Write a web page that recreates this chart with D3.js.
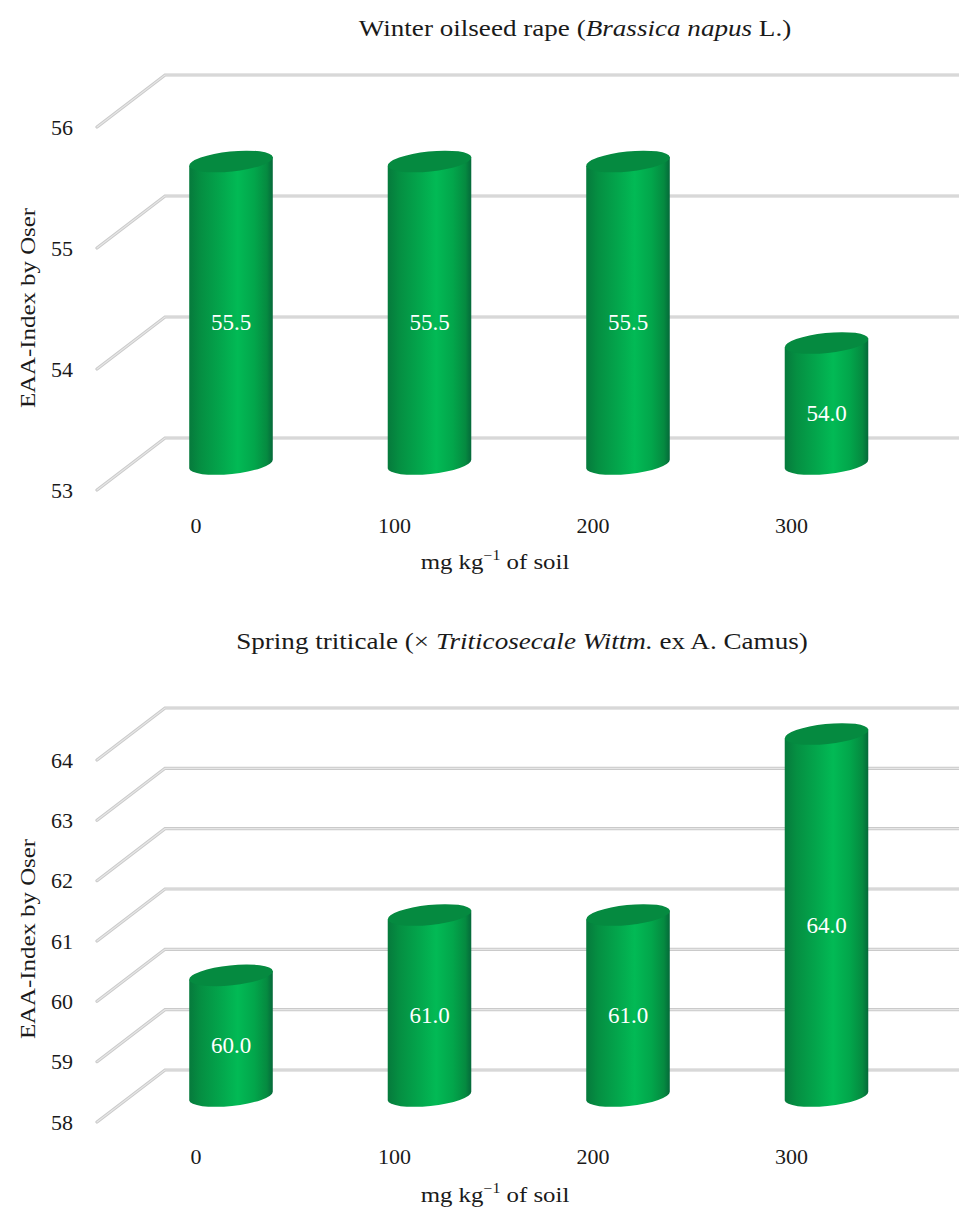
<!DOCTYPE html>
<html><head><meta charset="utf-8">
<style>
html,body{margin:0;padding:0;background:#fff}
text{font-family:"Liberation Serif",serif;fill:#1a1a1a;font-size:22px}
</style>
<script src="https://d3js.org/d3.v7.min.js"></script>
</head><body><svg id="c" width="959" height="1207"></svg>
<script>
const categories = ["0", "100", "200", "300"];
const rapeValues = [55.5, 55.5, 55.5, 54.0];
const triticaleValues = [60.0, 61.0, 61.0, 64.0];
const rapeTicks = [53, 54, 55, 56];
const triticaleTicks = [58, 59, 60, 61, 62, 63, 64];

const svg = d3.select("#c");
const defs = svg.append("defs");

// Shading across a cylinder's body
const grad = defs.append("linearGradient").attr("id", "cyl");
[[0, "#067a3c"], [0.14, "#058f42"], [0.38, "#03a64c"], [0.58, "#02ba55"], [0.78, "#02a64b"], [0.93, "#058a40"], [1, "#05693a"]]
  .forEach(([o, c]) => grad.append("stop").attr("offset", o).attr("stop-color", c));

const x = d3.scalePoint().domain(categories).range([231, 826.5]);
const rx = 42, ry = 10, tilt = -6, depth = 52, frontX = 97, backX = 165;
const dx = rx * Math.cos(tilt * Math.PI / 180), dy = rx * Math.sin(tilt * Math.PI / 180);
const wide = 1.13; // serif labels are set slightly extended

function panel(o) {
  const g = svg.append("g");
  // y gives the back-wall height of a value; marks stand half way into the floor
  const y = d3.scaleLinear().domain(d3.extent(o.ticks)).range(o.backRange);
  const yMid = v => y(v) + depth / 2;

  o.ticks.forEach(t => {
    const pts = [[frontX, y(t) + depth], [backX, y(t)], [959, y(t)]];
    const line = d3.line();
    g.append("path").attr("d", line(pts)).attr("fill", "none")
      .attr("stroke", "#cacaca").attr("stroke-width", 3.2).attr("stroke-linecap", "round");
    g.append("path").attr("d", line(pts)).attr("fill", "none")
      .attr("stroke", "#e6e6e6").attr("stroke-width", 1.2).attr("stroke-linecap", "round");
    g.append("text").attr("x", 62).attr("y", y(t) + depth)
      .attr("text-anchor", "middle").attr("dominant-baseline", "central").text(t);
  });

  o.values.forEach((v, i) => {
    const c = categories[i], cx = x(c), base = yMid(o.ticks[0]), top = yMid(v);
    g.append("path")
      .attr("d", `M${cx - dx},${top - dy}L${cx - dx},${base - dy}A${rx},${ry} ${tilt} 0 0 ${cx + dx},${base + dy}L${cx + dx},${top + dy}Z`)
      .attr("fill", "url(#cyl)");
    g.append("ellipse").attr("cx", cx).attr("cy", top).attr("rx", rx).attr("ry", ry)
      .attr("transform", `rotate(${tilt} ${cx} ${top})`).attr("fill", "#058a40");
    g.append("text").attr("x", cx).attr("y", (top + base) / 2 + 10)
      .attr("text-anchor", "middle").attr("dominant-baseline", "central")
      .style("fill", "#fff").style("font-size", "23px").text(v.toFixed(1));
    g.append("text").attr("x", cx - 35).attr("y", o.catY)
      .attr("text-anchor", "middle").attr("dominant-baseline", "central").text(c);
  });

  const title = g.append("text").attr("transform", `translate(${o.titleX},${o.titleY}) scale(${wide},1)`)
    .attr("text-anchor", "middle").attr("dominant-baseline", "central").style("font-size", "24px");
  o.title.forEach(([s, it]) => title.append("tspan").style("font-style", it ? "italic" : "normal").text(s));

  g.append("text").attr("transform", `translate(28,${o.yTitleY}) rotate(-90) scale(${wide},1)`)
    .attr("text-anchor", "middle").attr("dominant-baseline", "central").text("EAA-Index by Oser");

  const xt = g.append("text").attr("transform", `translate(495,${o.xTitleY}) scale(${wide},1)`)
    .attr("text-anchor", "middle").attr("dominant-baseline", "central");
  xt.append("tspan").text("mg kg");
  xt.append("tspan").attr("dy", -7).style("font-size", "14px").text("−1");
  xt.append("tspan").attr("dy", 7).text(" of soil");
}

panel({
  values: rapeValues, ticks: rapeTicks, backRange: [438, 75],
  title: [["Winter oilseed rape (", 0], ["Brassica napus", 1], [" L.)", 0]],
  titleX: 575, titleY: 28, catY: 525, xTitleY: 562, yTitleY: 308
});
panel({
  values: triticaleValues, ticks: triticaleTicks, backRange: [1070, 708],
  title: [["Spring triticale (× ", 0], ["Triticosecale Wittm.", 1], [" ex A. Camus)", 0]],
  titleX: 522, titleY: 641, catY: 1156, xTitleY: 1195, yTitleY: 939
});
</script></body></html>
